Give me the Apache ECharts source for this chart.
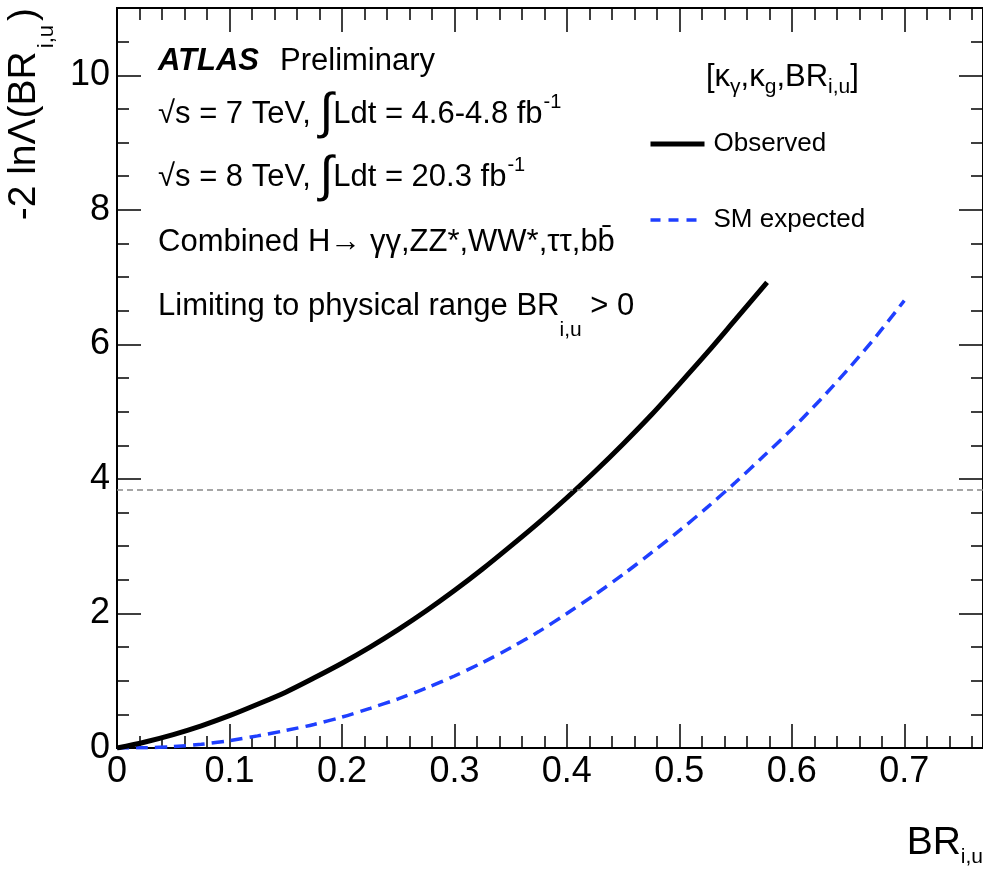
<!DOCTYPE html>
<html><head><meta charset="utf-8">
<script src="https://cdn.jsdelivr.net/npm/echarts@6/dist/echarts.min.js"></script>
<style>html,body{margin:0;padding:0;background:#fff}#c{width:983px;height:874px}</style>
</head><body><div id="c"></div>
<script>
// ---- data ----
const obsX = [0,0.025,0.05,0.075,0.1,0.125,0.15,0.175,0.2,0.225,0.25,0.275,0.3,0.325,0.35,0.375,0.4,0.425,0.45,0.475,0.5,0.525,0.55,0.578];
const obsY = [0,0.09,0.2,0.33,0.48,0.65,0.83,1.04,1.26,1.5,1.76,2.04,2.34,2.66,3.0,3.35,3.72,4.11,4.52,4.95,5.41,5.88,6.37,6.92];
const expX = [0,0.025,0.05,0.075,0.1,0.125,0.15,0.175,0.2,0.225,0.25,0.275,0.3,0.325,0.35,0.375,0.4,0.425,0.45,0.475,0.5,0.525,0.55,0.575,0.6,0.625,0.65,0.675,0.7];
const expY = [0,0.004,0.02,0.055,0.11,0.18,0.26,0.35,0.46,0.59,0.73,0.89,1.07,1.27,1.49,1.73,2.0,2.28,2.58,2.9,3.23,3.58,3.95,4.34,4.74,5.17,5.63,6.12,6.65];
const xTickValues = [0,0.1,0.2,0.3,0.4,0.5,0.6,0.7];
const xTickLabels = ['0','0.1','0.2','0.3','0.4','0.5','0.6','0.7'];
const yTickValues = [0,2,4,6,8,10];
const yTickLabels = ['0','2','4','6','8','10'];
const limit95 = 3.84;
const seriesNames = ['Observed','SM expected'];

const F = "'Liberation Sans', Arial, Helvetica, sans-serif";
const BLUE = '#1f3fff';

function labelFor(v, vals, labs) {
  for (let i = 0; i < vals.length; i++) if (Math.abs(v - vals[i]) < 1e-6) return labs[i];
  return '';
}
function xAx(position, interval, len, withLabels) {
  return {
    type: 'value', position, min: 0, max: 0.77, interval,
    axisLine: {show: true, onZero: false, lineStyle: {color: '#000', width: 2}},
    axisTick: {show: true, inside: true, length: len, lineStyle: {color: '#000', width: 1.5}},
    axisLabel: withLabels ? {show: true, fontFamily: F, fontSize: 36, color: '#000', margin: 6,
      formatter: v => labelFor(v, xTickValues, xTickLabels)} : {show: false},
    splitLine: {show: false}, axisPointer: {show: false}
  };
}
function yAx(position, interval, len, withLabels) {
  return {
    type: 'value', position, min: 0, max: 11, interval,
    axisLine: {show: true, onZero: false, lineStyle: {color: '#000', width: 2}},
    axisTick: {show: true, inside: true, length: len, lineStyle: {color: '#000', width: 1.5}},
    axisLabel: withLabels ? {show: true, fontFamily: F, fontSize: 36, color: '#000', margin: 7,
      formatter: v => labelFor(v, yTickValues, yTickLabels)} : {show: false},
    splitLine: {show: false}, axisPointer: {show: false}
  };
}

const chart = echarts.init(document.getElementById('c'), null, {renderer: 'canvas'});
const richMain = {
  n: {fontSize: 31, lineHeight: 40, fontFamily: F, verticalAlign: 'middle'},
  i: {fontSize: 50, lineHeight: 40, fontFamily: F, verticalAlign: 'middle'},
  p: {fontSize: 20, lineHeight: 20, fontFamily: F, verticalAlign: 'middle', padding: [0, 0, 24, 1]},
  s: {fontSize: 21, lineHeight: 20, fontFamily: F, verticalAlign: 'middle', padding: [47, 0, 0, 0]},
  h: {fontSize: 21, lineHeight: 20, fontFamily: F, verticalAlign: 'middle', padding: [20, 0, 0, 0]}
};
function txt(x, y, text) {
  return {type: 'text', x, y, silent: true,
    style: {text, rich: richMain, fontFamily: F, fontSize: 31, fill: '#000', textAlign: 'left', textVerticalAlign: 'middle'}};
}

chart.setOption({
  animation: false,
  backgroundColor: '#fff',
  grid: {left: 117, right: 0, top: 8, bottom: 126, containLabel: false, outerBoundsMode: 'none'},
  xAxis: [xAx('bottom', 0.1, 24, true), xAx('bottom', 0.02, 12, false), xAx('top', 0.1, 24, false), xAx('top', 0.02, 12, false)],
  yAxis: [yAx('left', 2, 24, true), yAx('left', 0.5, 12, false), yAx('right', 2, 24, false), yAx('right', 0.5, 12, false)],
  legend: {
    show: true, orient: 'vertical', left: 648, top: 131, padding: 0, itemWidth: 54, itemHeight: 14, itemGap: 50,
    selectedMode: false,
    itemStyle: {opacity: 0},
    data: [
      {name: seriesNames[0], lineStyle: {width: 5, color: '#000'}},
      {name: seriesNames[1], lineStyle: {width: 3.5, color: BLUE, type: [10, 8]}}
    ],
    textStyle: {fontFamily: F, fontSize: 26, color: '#000', padding: [0, 0, 0, 4]}
  },
  series: [
    {name: seriesNames[0], type: 'line', xAxisIndex: 0, yAxisIndex: 0, data: obsX.map((x, i) => [x, obsY[i]]),
      symbol: 'none', showSymbol: false, smooth: 0.3, z: 4,
      lineStyle: {color: '#000', width: 5}, itemStyle: {color: '#000'},
      markLine: {silent: true, symbol: 'none', animation: false, label: {show: false},
        lineStyle: {color: '#888', type: [6, 4], width: 1.5}, data: [{yAxis: limit95}]}},
    {name: seriesNames[1], type: 'line', xAxisIndex: 0, yAxisIndex: 0, data: expX.map((x, i) => [x, expY[i]]),
      symbol: 'none', showSymbol: false, smooth: 0.3, z: 3,
      lineStyle: {color: BLUE, width: 3.5, type: [12, 7]}, itemStyle: {color: BLUE}}
  ],
  graphic: [
    {type: 'text', x: 158, y: 61, silent: true, style: {text: 'ATLAS', fontFamily: F, fontSize: 31, fontWeight: 'bold', fontStyle: 'italic', fill: '#000', textVerticalAlign: 'middle'}},
    {type: 'text', x: 280, y: 61, silent: true, style: {text: 'Preliminary', fontFamily: F, fontSize: 31, fill: '#000', textVerticalAlign: 'middle'}},
    txt(158, 114, '{n|√s = 7 TeV, }{i|∫}{n|Ldt = 4.6-4.8 fb}{p|-1}'),
    txt(158, 177.5, '{n|√s = 8 TeV, }{i|∫}{n|Ldt = 20.3 fb}{p|-1}'),
    txt(158, 242, '{n|Combined H→ γγ,ZZ*,WW*,ττ,bb\u0304}'),
    txt(158, 306.5, '{n|Limiting to physical range BR}{s|i,u}{n| > 0}'),
    txt(706, 77, '{n|[κ}{h|γ}{n|,κ}{h|g}{n|,BR}{h|i,u}{n|]}'),
    {type: 'text', x: 24, y: 8, rotation: Math.PI / 2, silent: true,
      style: {text: '{n|-2 lnΛ(BR}{s|i,u}{n|)}', fontFamily: F, fontSize: 39, fill: '#000', textAlign: 'right', textVerticalAlign: 'middle',
        rich: {n: {fontSize: 39, lineHeight: 44, fontFamily: F, verticalAlign: 'middle'},
               s: {fontSize: 22, lineHeight: 22, fontFamily: F, verticalAlign: 'middle', padding: [46, 4, 0, 3]}}}},
    {type: 'text', x: 983, y: 843, silent: true,
      style: {text: '{n|BR}{s|i,u}', fontFamily: F, fontSize: 39, fill: '#000', textAlign: 'right', textVerticalAlign: 'middle',
        rich: {n: {fontSize: 39, lineHeight: 44, fontFamily: F, verticalAlign: 'middle'},
               s: {fontSize: 21, lineHeight: 20, fontFamily: F, verticalAlign: 'middle', padding: [29, 0, 0, 0]}}}}
  ]
});
</script></body></html>
